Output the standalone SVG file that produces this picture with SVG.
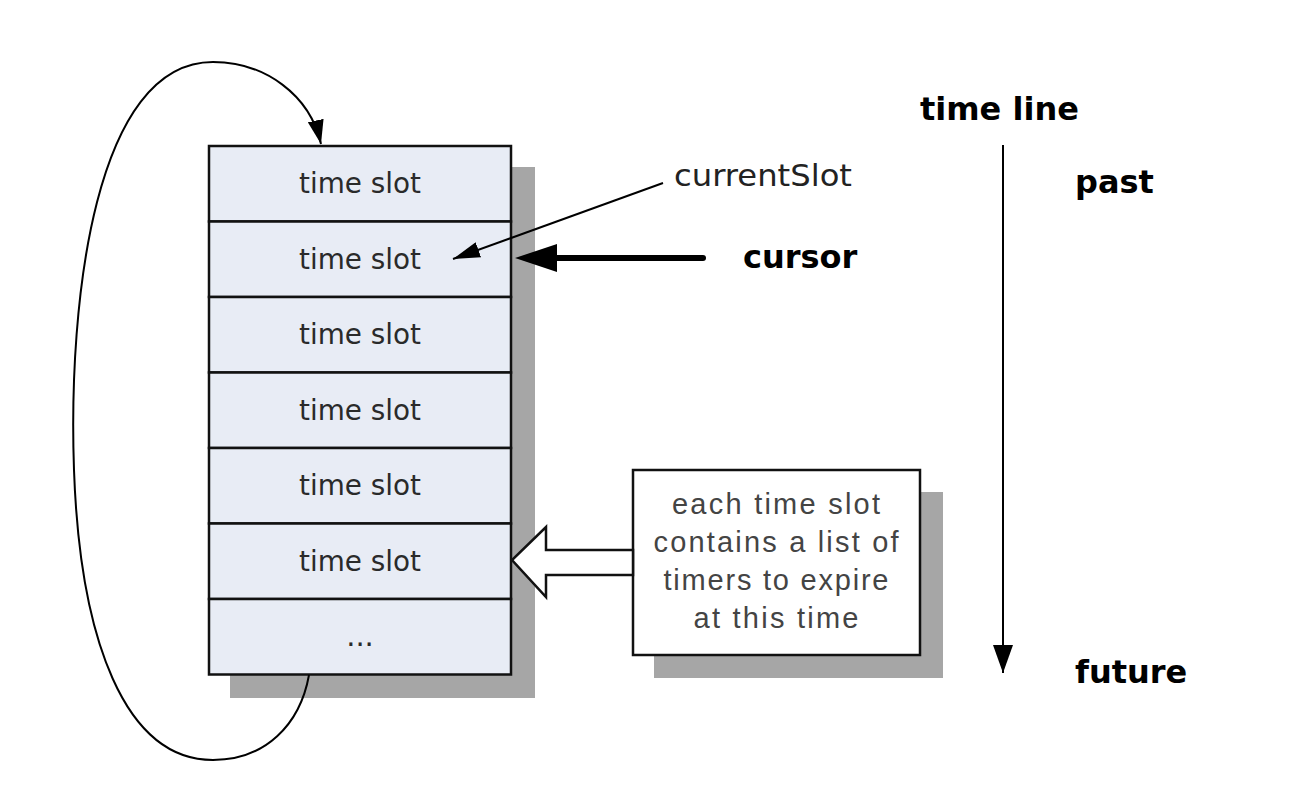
<svg xmlns="http://www.w3.org/2000/svg" width="1290" height="804" viewBox="0 0 1290 804">
  <style>
    .slot { fill: #E8ECF5; stroke: #111; stroke-width: 2.5; }
    .shadow { fill: #A6A6A6; }
    .slotText { font-family: "DejaVu Sans", sans-serif; font-size: 29px; fill: #2a2a2a; text-anchor: middle; }
    .label { font-family: "DejaVu Sans", sans-serif; font-size: 31px; fill: #222; }
    .bold { font-family: "DejaVu Sans", sans-serif; font-weight: bold; font-size: 32px; fill: #000; }
    .note { font-family: "Liberation Sans", Arial, sans-serif; font-size: 29px; fill: #444; text-anchor: middle; }
    .conn { fill: none; stroke: #000; stroke-width: 2; }
  </style>
  <defs>
    <marker id="ahLoop" markerUnits="userSpaceOnUse" viewBox="0 0 24 16" refX="24" refY="8" markerWidth="24" markerHeight="16" orient="auto">
      <path d="M0,0 L24,8 L0,16 Z" fill="#000"/>
    </marker>
    <marker id="ahThin" markerUnits="userSpaceOnUse" viewBox="0 0 27 16" refX="27" refY="8" markerWidth="27" markerHeight="16" orient="auto">
      <path d="M0,0 L27,8 L0,16 Z" fill="#000"/>
    </marker>
    <marker id="ahTime" markerUnits="userSpaceOnUse" viewBox="0 0 28 20" refX="28" refY="10" markerWidth="28" markerHeight="20" orient="auto">
      <path d="M0,0 L28,10 L0,20 Z" fill="#000"/>
    </marker>
  </defs>
  <rect width="1290" height="804" fill="#fff"/>

  <g id="slots">
    <rect class="shadow" x="230" y="167" width="305" height="531"/>
    <g id="slot1"><rect class="slot" x="209" y="146" width="302" height="75.5"/><text class="slotText" x="360" y="193" textLength="122" lengthAdjust="spacingAndGlyphs">time slot</text></g>
    <g id="slot2"><rect class="slot" x="209" y="221.5" width="302" height="75.5"/><text class="slotText" x="360" y="268.5" textLength="122" lengthAdjust="spacingAndGlyphs">time slot</text></g>
    <g id="slot3"><rect class="slot" x="209" y="297" width="302" height="75.5"/><text class="slotText" x="360" y="344" textLength="122" lengthAdjust="spacingAndGlyphs">time slot</text></g>
    <g id="slot4"><rect class="slot" x="209" y="372.5" width="302" height="75.5"/><text class="slotText" x="360" y="419.5" textLength="122" lengthAdjust="spacingAndGlyphs">time slot</text></g>
    <g id="slot5"><rect class="slot" x="209" y="448" width="302" height="75.5"/><text class="slotText" x="360" y="495" textLength="122" lengthAdjust="spacingAndGlyphs">time slot</text></g>
    <g id="slot6"><rect class="slot" x="209" y="523.5" width="302" height="75.5"/><text class="slotText" x="360" y="570.5" textLength="122" lengthAdjust="spacingAndGlyphs">time slot</text></g>
    <g id="slot7"><rect class="slot" x="209" y="599" width="302" height="75.5"/><text class="slotText" x="360" y="646">...</text></g>
  </g>

  <g id="note">
    <rect class="shadow" x="654" y="492" width="289" height="186"/>
    <rect x="633" y="470" width="287" height="185" fill="#fff" stroke="#111" stroke-width="2.5"/>
    <text class="note" x="776" y="514" textLength="208" lengthAdjust="spacing">each time slot</text>
    <text class="note" x="776" y="552" textLength="245" lengthAdjust="spacing">contains a list of</text>
    <text class="note" x="776" y="590" textLength="225" lengthAdjust="spacing">timers to expire</text>
    <text class="note" x="776" y="628" textLength="165" lengthAdjust="spacing">at this time</text>
  </g>

  <g id="labels">
    <text class="label" x="674" y="186" textLength="178" lengthAdjust="spacingAndGlyphs">currentSlot</text>
    <text class="bold" x="743" y="268">cursor</text>
    <text class="bold" x="920" y="120">time line</text>
    <text class="bold" x="1075" y="193">past</text>
    <text class="bold" x="1075" y="683">future</text>
  </g>

  <g id="connectors">
    <path class="conn" d="M309,675 C300,725 265,760 213,760 C125,760 80,640 74,470 C68,300 95,62 213,62 C265,62 310,95 321,144" marker-end="url(#ahLoop)"/>
    <line class="conn" x1="663" y1="183" x2="453" y2="259" marker-end="url(#ahThin)"/>
    <line x1="703" y1="258" x2="550" y2="258" stroke="#000" stroke-width="6" stroke-linecap="round"/>
    <polygon points="515,258 557,244 557,272" fill="#000"/>
    <line class="conn" x1="1003" y1="145" x2="1003" y2="673" marker-end="url(#ahTime)"/>
    <polygon points="633,550 546,550 546,527 512,560 546,597 546,575 633,575" fill="#fff" stroke="#111" stroke-width="2.5" stroke-linejoin="miter"/>
  </g>
</svg>
